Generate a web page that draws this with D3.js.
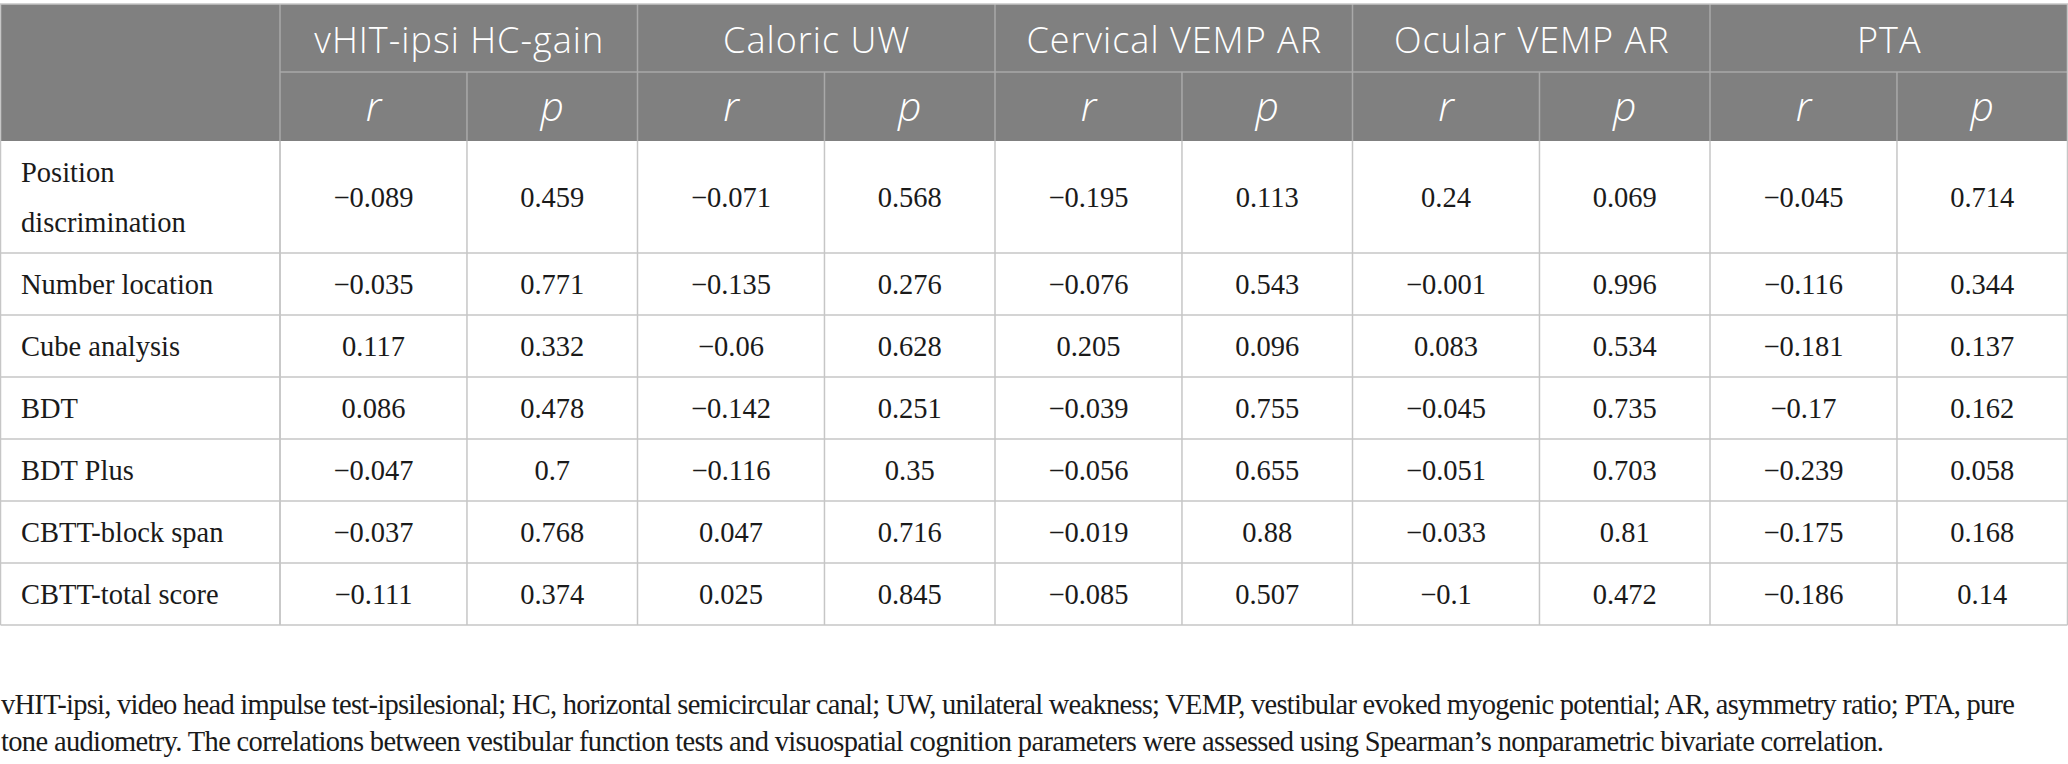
<!DOCTYPE html>
<html>
<head>
<meta charset="utf-8">
<script src="https://cdn.jsdelivr.net/npm/d3@7"></script>
<style>
  html, body { margin: 0; padding: 0; background: #fff; }
  svg { display: block; }
</style>
</head>
<body>
<svg id="chart" width="2068" height="764"></svg>
<script>
/*** DATA ***/
const tests = ["vHIT-ipsi HC-gain", "Caloric UW", "Cervical VEMP AR", "Ocular VEMP AR", "PTA"];
const stats = ["r", "p"];
const measures = [
  ["Position", "discrimination"],
  ["Number location"],
  ["Cube analysis"],
  ["BDT"],
  ["BDT Plus"],
  ["CBTT-block span"],
  ["CBTT-total score"]
];
// one row per measure, one value per test
const rValues = [
  [-0.089, -0.071, -0.195, 0.24, -0.045],
  [-0.035, -0.135, -0.076, -0.001, -0.116],
  [0.117, -0.06, 0.205, 0.083, -0.181],
  [0.086, -0.142, -0.039, -0.045, -0.17],
  [-0.047, -0.116, -0.056, -0.051, -0.239],
  [-0.037, 0.047, -0.019, -0.033, -0.175],
  [-0.111, 0.025, -0.085, -0.1, -0.186]
];
const pValues = [
  [0.459, 0.568, 0.113, 0.069, 0.714],
  [0.771, 0.276, 0.543, 0.996, 0.344],
  [0.332, 0.628, 0.096, 0.534, 0.137],
  [0.478, 0.251, 0.755, 0.735, 0.162],
  [0.7, 0.35, 0.655, 0.703, 0.058],
  [0.768, 0.716, 0.88, 0.81, 0.168],
  [0.374, 0.845, 0.507, 0.472, 0.14]
];
const captionLines = [
  "vHIT-ipsi, video head impulse test-ipsilesional; HC, horizontal semicircular canal; UW, unilateral weakness; VEMP, vestibular evoked myogenic potential; AR, asymmetry ratio; PTA, pure",
  "tone audiometry. The correlations between vestibular function tests and visuospatial cognition parameters were assessed using Spearman\u2019s nonparametric bivariate correlation."
];

/*** LAYOUT ***/
const tLeft = 0.5, tRight = 2067.5;
const labelW = 280;
const tTop = 4, head1 = 72, head2 = 141;
const lineH = 50, rowH = 62;
const headBg = "#808080", headLine = "#a9a9a9", gridCol = "#c6c6c6";
const serif = "'Liberation Serif', 'Times New Roman', serif";
const sans = "'Open Sans', 'Noto Sans', sans-serif";
const bodySize = 28.5, headSize = 36, statSize = 41;

const svg = d3.select("#chart");

// group columns (one band per test), split into r / p sub-columns
const xGroup = d3.scaleBand().domain(tests).range([labelW, tRight]);
const rShare = 0.523; // r column is a bit wider than p
function subX(stat) { return stat === "r" ? 0 : xGroup.bandwidth() * rShare; }
function subW(stat) { return stat === "r" ? xGroup.bandwidth() * rShare : xGroup.bandwidth() * (1 - rShare); }

// row tops from line count of each label
const rowHeights = measures.map(m => rowH + (m.length - 1) * lineH);
const rowTops = [head2];
rowHeights.forEach((h, i) => rowTops.push(rowTops[i] + h));
const yRow = d3.scaleOrdinal().domain(d3.range(measures.length)).range(rowTops.slice(0, -1));
const tableBottom = rowTops[rowTops.length - 1];

function fmt(v) { return String(v).replace("-", "\u2212"); }

/*** HEADER ***/
svg.append("rect")
  .attr("x", tLeft).attr("y", tTop)
  .attr("width", tRight - tLeft).attr("height", head2 - tTop)
  .attr("fill", headBg);

const hl = svg.append("g").attr("stroke", headLine).attr("stroke-width", 1.5);
// line between header rows (not under merged first cell)
hl.append("line").attr("x1", labelW).attr("x2", tRight).attr("y1", head1).attr("y2", head1);
// group separators through both header rows
hl.selectAll(".gsep").data(tests).enter().append("line")
  .attr("x1", d => xGroup(d)).attr("x2", d => xGroup(d))
  .attr("y1", tTop).attr("y2", head2);
// r/p separators in second header row
hl.selectAll(".ssep").data(tests).enter().append("line")
  .attr("x1", d => xGroup(d) + subX("p")).attr("x2", d => xGroup(d) + subX("p"))
  .attr("y1", head1).attr("y2", head2);

svg.selectAll(".testLabel").data(tests).enter().append("text")
  .attr("x", d => xGroup(d) + xGroup.bandwidth() / 2 + 0.5)
  .attr("y", 53)
  .attr("text-anchor", "middle")
  .attr("font-family", sans).attr("font-size", headSize)
  .attr("font-weight", 300)
  .attr("letter-spacing", 1)
  .attr("fill", "#fff")
  .text(d => d);

const subCells = [];
tests.forEach(t => stats.forEach(s => subCells.push({ t: t, s: s })));
svg.selectAll(".statLabel").data(subCells).enter().append("text")
  .attr("x", d => xGroup(d.t) + subX(d.s) + subW(d.s) / 2)
  .attr("y", 120.5)
  .attr("text-anchor", "middle")
  .attr("font-family", sans).attr("font-size", statSize)
  .attr("font-style", "italic").attr("font-weight", 300)
  .attr("fill", "#fff")
  .text(d => d.s);

/*** BODY GRID ***/
const grid = svg.append("g").attr("stroke", gridCol).attr("stroke-width", 1.5);
grid.append("line").attr("x1", tLeft - 0.5).attr("x2", tRight + 0.5).attr("y1", tTop).attr("y2", tTop);
grid.selectAll(".hrow").data(rowTops.slice(1)).enter().append("line")
  .attr("x1", tLeft).attr("x2", tRight).attr("y1", d => d).attr("y2", d => d);
const vEdges = [tLeft, labelW, tRight];
tests.forEach(t => { vEdges.push(xGroup(t)); vEdges.push(xGroup(t) + subX("p")); });
grid.selectAll(".vcol").data(vEdges).enter().append("line")
  .attr("x1", d => d).attr("x2", d => d)
  .attr("y1", d => (d === tLeft || d === tRight) ? tTop : head2).attr("y2", tableBottom);

/*** BODY TEXT ***/
const rows = svg.selectAll(".row").data(measures).enter().append("g");

rows.each(function(m, i) {
  const g = d3.select(this);
  const cy = yRow(i) + rowHeights[i] / 2;
  const firstBase = cy - (m.length - 1) * lineH / 2 + bodySize * 0.34;
  g.selectAll("text.lab").data(m).enter().append("text")
    .attr("x", 21)
    .attr("y", (d, k) => firstBase + k * lineH)
    .attr("font-family", serif).attr("font-size", bodySize)
    .attr("fill", "#1a1a1a")
    .text(d => d);

  const cells = [];
  tests.forEach((t, j) => {
    cells.push({ t: t, s: "r", v: rValues[i][j] });
    cells.push({ t: t, s: "p", v: pValues[i][j] });
  });
  g.selectAll("text.val").data(cells).enter().append("text")
    .attr("x", d => xGroup(d.t) + subX(d.s) + subW(d.s) / 2)
    .attr("y", cy + bodySize * 0.34)
    .attr("text-anchor", "middle")
    .attr("font-family", serif).attr("font-size", bodySize)
    .attr("fill", "#1a1a1a")
    .text(d => fmt(d.v));
});

/*** CAPTION ***/
const capWidths = [2014, 1883];
svg.selectAll(".cap").data(captionLines).enter().append("text")
  .attr("x", 1)
  .attr("y", (d, i) => 714 + i * 37)
  .attr("font-family", serif).attr("font-size", bodySize)
  .attr("fill", "#1a1a1a")
  .attr("textLength", (d, i) => capWidths[i])
  .attr("lengthAdjust", "spacing")
  .text(d => d);
</script>
</body>
</html>
